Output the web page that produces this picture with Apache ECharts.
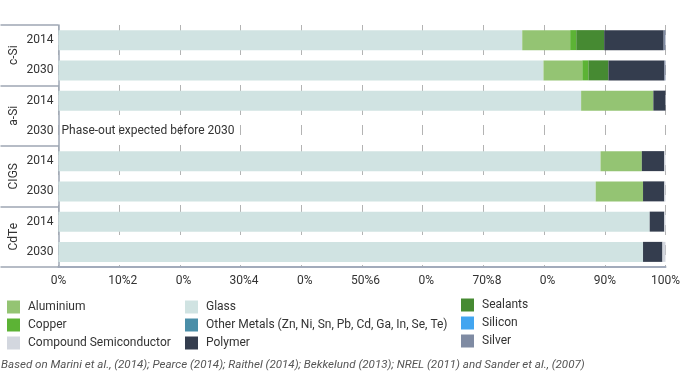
<!DOCTYPE html>
<html>
<head>
<meta charset="utf-8">
<script src="https://cdn.jsdelivr.net/npm/echarts@6/dist/echarts.min.js"></script>
<style>
html,body{margin:0;padding:0;background:#fff;}
#chart{width:683px;height:374px;}
</style>
</head>
<body>
<div id="chart"></div>
<script>
// ---- data ----
const rowKeys = ['c-Si 2014','c-Si 2030','a-Si 2014','a-Si 2030','CIGS 2014','CIGS 2030','CdTe 2014','CdTe 2030'];
const years = ['2014','2030','2014','2030','2014','2030','2014','2030'];
const groups = ['c-Si','a-Si','CIGS','CdTe'];
const xTickLabels = ['0%','10%2','0%','30%4','0%','50%6','0%','70%8','0%','90%','100%'];
const phaseOutNote = 'Phase-out expected before 2030';
const footnote = 'Based on Marini et al., (2014); Pearce (2014); Raithel (2014); Bekkelund (2013); NREL (2011) and Sander et al., (2007)';

const glass       = [76.4, 79.9, 86.1, 0, 89.3, 88.5, 97.4, 96.3];
const aluminium   = [7.9, 6.4, 11.9, 0, 6.8, 7.8, 0, 0];
const copper      = [1.0, 1.0, 0, 0, 0, 0, 0, 0];
const sealants    = [4.6, 3.3, 0, 0, 0, 0, 0, 0];
const polymer     = [9.8, 9.2, 2.0, 0, 3.7, 3.5, 2.4, 3.2];
const silver      = [0.3, 0.2, 0, 0, 0, 0, 0, 0];
const compound    = [0, 0, 0, 0, 0.2, 0.2, 0.2, 0.5];
const otherMetals = [0, 0, 0, 0, 0, 0, 0, 0];
const silicon     = [0, 0, 0, 0, 0, 0, 0, 0];

const colors = {
  'Aluminium':'#94c473',
  'Copper':'#5cb335',
  'Compound Semiconductor':'#d3d7df',
  'Glass':'#d0e3e2',
  'Other Metals (Zn, Ni, Sn, Pb, Cd, Ga, In, Se, Te)':'#4a8ea8',
  'Polymer':'#343d4e',
  'Sealants':'#468a32',
  'Silicon':'#42a5f0',
  'Silver':'#7f8ba3'
};

const seriesDefs = [
  ['Glass', glass],
  ['Aluminium', aluminium],
  ['Copper', copper],
  ['Sealants', sealants],
  ['Polymer', polymer],
  ['Silver', silver],
  ['Compound Semiconductor', compound],
  ['Other Metals (Zn, Ni, Sn, Pb, Cd, Ga, In, Se, Te)', otherMetals],
  ['Silicon', silicon]
];

const series = seriesDefs.map(([name, vals]) => ({
  name: name,
  type: 'bar',
  stack: 'total',
  barWidth: 20,
  itemStyle: {color: colors[name]},
  emphasis: {disabled: true},
  data: vals.map((v, i) => {
    if (name === 'Glass' && i === 3) {
      return {value: v, label: {show: true, position: 'right', distance: 3,
        formatter: phaseOutNote, color: '#333', fontSize: 12, fontFamily: 'Roboto'}};
    }
    return v;
  })
}));

const legendText = {color: '#333', fontSize: 12, fontFamily: 'Roboto', padding: [0,0,0,3]};
function legendCol(left, top, names) {
  return {
    orient: 'vertical', left: left, top: top, padding: 0, itemWidth: 13, itemHeight: 13,
    itemGap: 5, icon: 'rect', textStyle: legendText, data: names, selectedMode: false
  };
}

const chart = echarts.init(document.getElementById('chart'), null, {renderer: 'canvas'});
chart.setOption({
  animation: false,
  textStyle: {fontFamily: 'Roboto'},
  title: {
    text: footnote, left: 0, top: 359, padding: [0, 0, 0, 1],
    textStyle: {fontSize: 11.6, fontStyle: 'italic', fontWeight: 'normal', color: '#555', fontFamily: 'Roboto'}
  },
  legend: [
    legendCol(7, 300.5, ['Aluminium','Copper','Compound Semiconductor']),
    legendCol(185, 300.5, ['Glass','Other Metals (Zn, Ni, Sn, Pb, Cd, Ga, In, Se, Te)','Polymer']),
    legendCol(461, 298.5, ['Sealants','Silicon','Silver'])
  ],
  grid: {left: 58.5, right: 15.5, top: 25, bottom: 107},
  xAxis: {
    type: 'value', min: 0, max: 100, interval: 10,
    axisLine: {show: true, lineStyle: {color: '#a2abbb', width: 2}},
    axisTick: {show: false},
    splitLine: {show: true, lineStyle: {color: '#b3b3b3', width: 1, type: [10, 10]}},
    axisLabel: {
      margin: 8, color: '#333', fontSize: 12,
      formatter: function (v) {
        const i = Math.round(v / 10);
        const t = xTickLabels[i];
        if (t !== v + '%') return '{s|' + t + '}';
        return t;
      },
      rich: {s: {padding: [0, 0, 0, 7], color: '#333', fontSize: 12}}
    }
  },
  yAxis: [
    {
      type: 'category', data: rowKeys, inverse: true, position: 'left',
      axisLine: {show: false}, axisTick: {show: false},
      axisLabel: {margin: 5, color: '#333', fontSize: 12,
        formatter: function (v, i) { return years[i]; }}
    },
    {
      type: 'category', data: groups, inverse: true, position: 'left', offset: 0,
      axisLine: {show: true, lineStyle: {color: '#9ea7b4', width: 1.5}},
      axisTick: {show: true, length: 58, alignWithLabel: false, interval: 0,
        lineStyle: {color: '#9ea7b4', width: 1.5}},
      axisLabel: {rotate: 90, margin: 39, color: '#333', fontSize: 12}
    }
  ],
  series: series
});
</script>
</body>
</html>
